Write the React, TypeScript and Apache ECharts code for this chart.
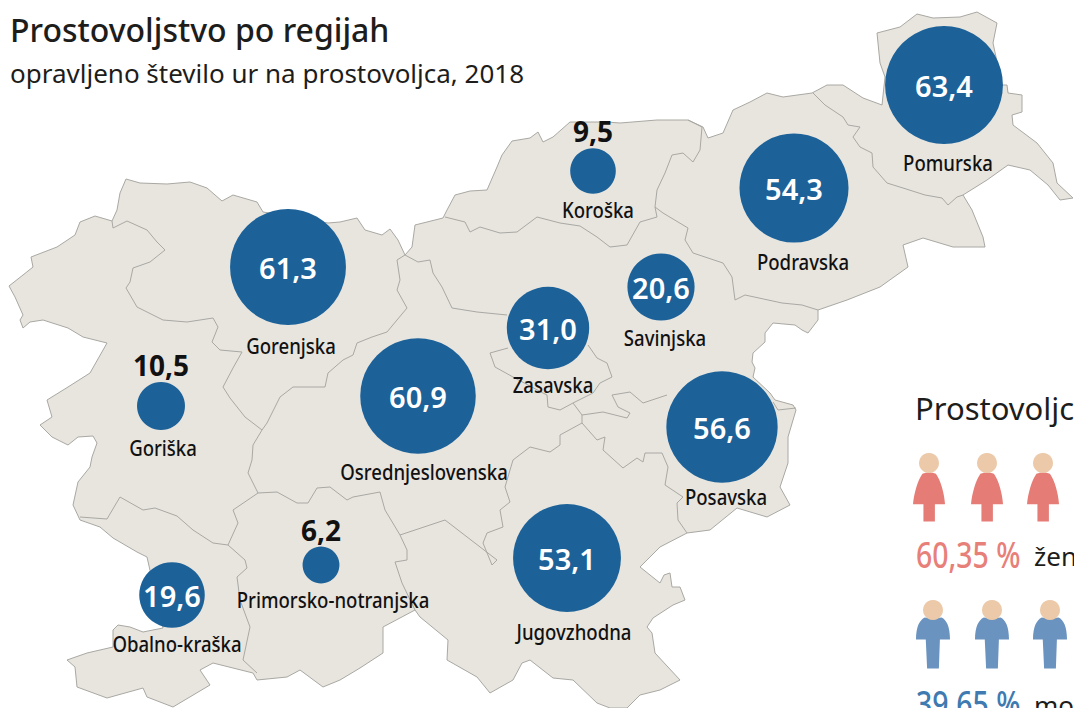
import React, { useEffect, useRef } from "react";
import * as echarts from "echarts";

const WIDTH = 1074;
const HEIGHT = 708;

// Slovenia outline (image pixels).
const outline: number[][] = [
  [9,286],[23,275],[33,267],[31,257],[57,247],[75,235],[80,222],[95,216],[112,221],[117,210],[120,193],[126,179],[140,183],[167,184],[190,182],[207,188],[222,201],[233,195],[257,202],[263,212],
  [328,223],[340,222],[357,218],[365,230],[382,235],[390,229],[398,240],[405,255],[412,247],[415,225],[443,218],[447,210],[455,195],[470,191],[487,190],[497,167],[502,155],[512,141],[530,138],[538,132],[543,142],[553,137],[570,122],[607,122],[620,123],[657,120],[688,120],[703,127],[708,138],[723,133],[733,110],[750,102],[767,93],[783,97],[812,93],[827,85],[843,85],[863,98],[882,105],
  [885,77],[880,63],[877,33],[900,27],[917,14],[933,18],[960,17],[977,12],[997,23],[993,43],[1002,85],[1007,85],[1008,93],[1022,95],[1022,112],[1012,115],[1013,125],[1037,143],[1053,163],[1057,183],[1073,198],[1060,200],[1048,185],[1030,170],[1008,165],[987,180],[963,195],[972,210],[983,237],[985,247],[953,247],[923,238],[903,245],[908,267],[880,287],[847,300],[818,310],[818,320],
  [808,333],[802,330],[795,325],[773,323],[765,333],[765,342],[753,353],[752,362],[755,368],[753,377],[770,393],[775,400],[793,405],[796,410],[788,437],[788,463],[780,487],[790,505],[767,517],[737,508],[710,530],[687,533],[660,547],[640,567],[660,583],[664,575],[670,573],[672,587],[680,587],[685,600],[673,605],[653,618],[647,627],[652,633],[655,653],[680,680],[660,690],[640,695],[627,708],[610,708],[597,703],[573,680],[553,678],[530,660],[522,663],[513,680],[490,693],[477,677],[447,660],[448,640],[420,617],[415,610],
  [383,627],[383,653],[360,668],[340,680],[323,687],[300,670],[287,677],[257,680],[253,673],[213,663],[200,670],[210,685],[173,707],[147,697],[143,688],[107,698],[77,687],[75,667],[67,660],[87,653],[113,647],[113,630],[118,625],[130,627],[143,632],[163,628],
  [147,557],[137,552],[113,538],[100,527],[80,520],[73,505],[78,482],[90,467],[92,457],[97,443],[93,436],[78,437],[68,445],[52,437],[40,425],[52,417],[47,400],[68,387],[90,373],[107,343],[83,337],[68,328],[43,320],[30,322],[23,328],[20,320],[23,315],[15,297],
];

const borderGoriskaGorenjska: number[][] = [[112,221],[113,228],[127,221],[147,230],[157,242],[165,250],[150,262],[133,268],[130,282],[126,288],[137,307],[163,320],[187,322],[213,318],[218,327],[212,342],[220,350],[242,352],[233,368],[223,387],[230,398],[245,417],[262,430],[253,445],[252,460],[248,473],[258,493],[233,510],[238,523],[228,545]];
const borderGoriskaObalna: number[][] = [[80,517],[107,519],[120,497],[143,510],[155,508],[177,516],[193,530],[213,543],[228,545]];
const borderObalnaPrimorska: number[][] = [[228,545],[245,560],[247,568],[237,577],[240,600],[250,627],[243,660],[257,673]];
const borderOsrednjaPrimorska: number[][] = [[258,493],[277,492],[297,503],[308,503],[317,488],[330,487],[347,500],[353,497],[380,492],[385,510],[400,535]];
const borderPrimorskaJugo: number[][] = [[400,535],[407,550],[407,560],[395,562],[402,583],[415,610]];
const borderOsrednjaJugo: number[][] = [[400,535],[445,520],[497,560],[492,565],[483,543],[487,533],[503,527],[500,510],[510,502],[505,487],[513,460],[530,447],[550,452],[560,445],[560,435],[582,423]];
const borderJugoPosavska: number[][] = [[582,423],[597,440],[605,437],[603,450],[623,468],[637,458],[643,462],[645,453],[662,453],[668,467],[665,485],[683,497],[677,503],[678,520],[687,533]];
const borderZasavska: number[][] = [[508,348],[490,353],[495,367],[513,377],[543,393],[547,395],[548,407],[560,410],[573,403],[593,393],[600,383],[612,377],[607,363],[597,358],[588,345]];
const borderPosavskaTop: number[][] = [[573,403],[582,415],[582,423]];
const borderPosavskaSavinjska: number[][] = [[582,415],[603,412],[627,418],[630,413],[618,407],[612,395],[630,392],[643,403],[667,395]];
const borderPosavskaEast: number[][] = [[773,402],[778,410],[796,408]];
const borderSavinjskaOsrednja: number[][] = [[405,255],[418,262],[430,260],[433,273],[442,287],[452,308],[477,312],[507,315]];
const borderGorenjskaOsrednja: number[][] = [[405,255],[397,260],[400,280],[397,290],[407,308],[387,332],[372,337],[357,343],[353,355],[343,360],[328,373],[325,387],[293,387],[280,397],[267,423],[262,430]];
const borderKoroskaSavinjska: number[][] = [[445,217],[465,222],[470,232],[480,227],[500,233],[517,232],[537,217],[560,223],[580,226],[597,237],[610,247],[627,245],[640,222],[657,217]];
const borderKoroskaPodravska: number[][] = [[688,120],[702,127],[700,150],[693,162],[683,153],[672,155],[665,173],[657,190],[655,207],[657,217]];
const borderSavinjskaPodravska: number[][] = [[655,207],[663,213],[688,228],[685,240],[693,253],[723,263],[732,277],[735,300],[745,295],[782,303],[802,305],[818,310]];
const borderPodravskaPomurska: number[][] = [[813,93],[825,105],[843,117],[848,125],[860,127],[853,137],[860,147],[872,153],[873,167],[887,183],[903,188],[925,195],[942,198],[948,205],[957,197],[963,195]];

const borders: number[][][] = [
  borderGoriskaGorenjska, borderGoriskaObalna, borderObalnaPrimorska, borderOsrednjaPrimorska,
  borderPrimorskaJugo, borderOsrednjaJugo, borderJugoPosavska, borderZasavska, borderPosavskaTop,
  borderPosavskaSavinjska, borderPosavskaEast, borderSavinjskaOsrednja, borderGorenjskaOsrednja,
  borderKoroskaSavinjska, borderKoroskaPodravska, borderSavinjskaPodravska, borderPodravskaPomurska,
];

// Regions: hours per volunteer, bubble centre, name-label centre.
const regionNames = ["Pomurska","Podravska","Koroška","Savinjska","Zasavska","Posavska","Jugovzhodna","Osrednjeslovenska","Gorenjska","Primorsko-notranjska","Obalno-kraška","Goriška"];
const regionValues = [63.4,54.3,9.5,20.6,31.0,56.6,53.1,60.9,61.3,6.2,19.6,10.5];
const bubbleX = [944,794,593,661,548,722,567,418,288,321,172,161];
const bubbleY = [85,188,171,287,328,427,558,396,267,565,595,406];
const nameX = [948,803,598,665,553,726,574,424,291,333,177,163];
const nameY = [163,262,210,338,385,497,632,472,346,600,644,448];
const insideLabel = [true,true,false,true,true,true,true,true,true,false,true,false];

const womenX = [929,987,1043];
const menX = [933,992,1050];

// Side panel shares.
const shareTexts = ["60,35 %","39,65 %"];
const shareColors = ["#e8807a","#3f7ab0"];
const shareY = [554,703];
const shareWords = ["žen","mo"];

const WOMAN = "path://M100 278 Q120 270 140 278 C155 300 165 340 167 372 L137 372 L137 425 L103 425 L103 372 L72 372 C75 340 85 300 100 278Z";
const MAN = "path://M105 718 Q130 722 155 718 C170 725 180 745 180 782 L150 782 L147 867 L112 867 L108 782 L79 782 C79 745 90 725 105 718Z";

const SANS = "'Noto Sans', sans-serif";
const fmt = (v: number) => v.toFixed(1).replace(".", ",");

function renderMap(params: any, api: any) {
  const i = params.dataIndex;
  if (i === 0) {
    return {
      type: "polygon",
      shape: { points: outline.map((p) => api.coord(p)) },
      style: { fill: "#e8e5df", stroke: "#a9a8a3", lineWidth: 1 },
    };
  }
  return {
    type: "polyline",
    shape: { points: borders[i - 1].map((p) => api.coord(p)) },
    style: { fill: "none", stroke: "#a9a8a3", lineWidth: 1 },
  };
}

function renderName(params: any, api: any) {
  const c = api.coord([api.value(0), api.value(1)]);
  return {
    type: "text",
    x: c[0],
    y: c[1],
    scaleX: 0.885,
    style: { text: regionNames[params.dataIndex], fontSize: 21, fontWeight: 500, fontFamily: SANS, fill: "#111111", align: "center", verticalAlign: "middle" },
  };
}

function renderShare(params: any, api: any) {
  const i = params.dataIndex;
  const y = api.coord([0, api.value(1)])[1];
  return {
    type: "group",
    children: [
      {
        type: "text",
        x: api.coord([916, 0])[0],
        y,
        scaleX: 0.79,
        style: { text: shareTexts[i], fontSize: 36, fontWeight: 500, fontFamily: SANS, fill: shareColors[i], align: "left", verticalAlign: "middle" },
      },
      {
        type: "text",
        x: api.coord([1034, 0])[0],
        y: y + 2,
        style: { text: shareWords[i], fontSize: 26, fontWeight: 400, fontFamily: SANS, fill: "#1d1d1b", align: "left", verticalAlign: "middle" },
      },
    ],
  };
}

export default function App() {
  const ref = useRef<HTMLDivElement>(null);
  useEffect(() => {
    const chart = echarts.init(ref.current!, undefined, { renderer: "svg" });
    const titleText = (text: string, left: number, top: number, fontSize: number, fontWeight: any) => ({
      text, left, top, padding: 0, textStyle: { fontSize, color: "#1d1d1b", fontWeight, fontFamily: SANS },
    });
    chart.setOption({
      animation: false,
      backgroundColor: "#ffffff",
      title: [
        titleText("Prostovoljstvo po regijah", 10, 13, 32, 500),
        titleText("opravljeno število ur na prostovoljca, 2018", 10, 60, 26, 400),
        titleText("Prostovoljc", 915, 392, 31, 400),
      ],
      grid: { left: 0, right: 0, top: 0, bottom: 0 },
      xAxis: { type: "value", min: 0, max: WIDTH, show: false },
      yAxis: { type: "value", min: 0, max: HEIGHT, inverse: true, show: false },
      series: [
        {
          type: "custom",
          coordinateSystem: "cartesian2d",
          renderItem: renderMap,
          data: [0, ...borders.map((_, i) => i + 1)].map((i) => [i]),
          encode: { x: -1, y: -1 },
          silent: true,
          clip: false,
          z: 1,
        },
        {
          name: "Regije",
          type: "scatter",
          z: 3,
          symbol: "circle",
          data: regionNames.map((name, i) => ({
            name,
            value: [bubbleX[i], bubbleY[i], regionValues[i]],
            symbolSize: 14.8 * Math.sqrt(regionValues[i]),
            label: insideLabel[i]
              ? { show: true, position: "inside", formatter: fmt(regionValues[i]), color: "#ffffff", fontSize: 29, fontWeight: 600, fontFamily: SANS }
              : { show: true, position: "top", distance: 3, formatter: fmt(regionValues[i]), color: "#111111", fontSize: 28, fontWeight: 700, fontFamily: SANS },
          })),
          itemStyle: { color: "#1c6299", opacity: 1 },
        },
        {
          name: "Imena",
          type: "custom",
          coordinateSystem: "cartesian2d",
          z: 4,
          renderItem: renderName,
          data: regionNames.map((_, i) => [nameX[i], nameY[i]]),
          encode: { x: 0, y: 1 },
          clip: false,
        },
        {
          name: "Deleži",
          type: "custom",
          coordinateSystem: "cartesian2d",
          z: 4,
          renderItem: renderShare,
          data: shareY.map((y) => [916, y]),
          encode: { x: 0, y: 1 },
          clip: false,
        },
        {
          name: "Ženske",
          type: "scatter",
          z: 3,
          symbol: WOMAN,
          symbolSize: [32, 49],
          itemStyle: { color: "#e57c76", opacity: 1 },
          data: womenX.map((x) => [x, 497]),
        },
        {
          name: "Moški",
          type: "scatter",
          z: 3,
          symbol: MAN,
          symbolSize: [34, 51],
          itemStyle: { color: "#6a93c0", opacity: 1 },
          data: menX.map((x) => [x, 643]),
        },
        {
          name: "Glave",
          type: "scatter",
          z: 4,
          symbol: "circle",
          symbolSize: 20,
          itemStyle: { color: "#ecc9a8", opacity: 1 },
          data: [...womenX.map((x) => [x, 463]), ...menX.map((x) => [x, 610])],
        },
      ],
    });
    return () => chart.dispose();
  }, []);
  return <div ref={ref} style={{ position: "fixed", left: 0, top: 0, width: WIDTH, height: HEIGHT }} />;
}
